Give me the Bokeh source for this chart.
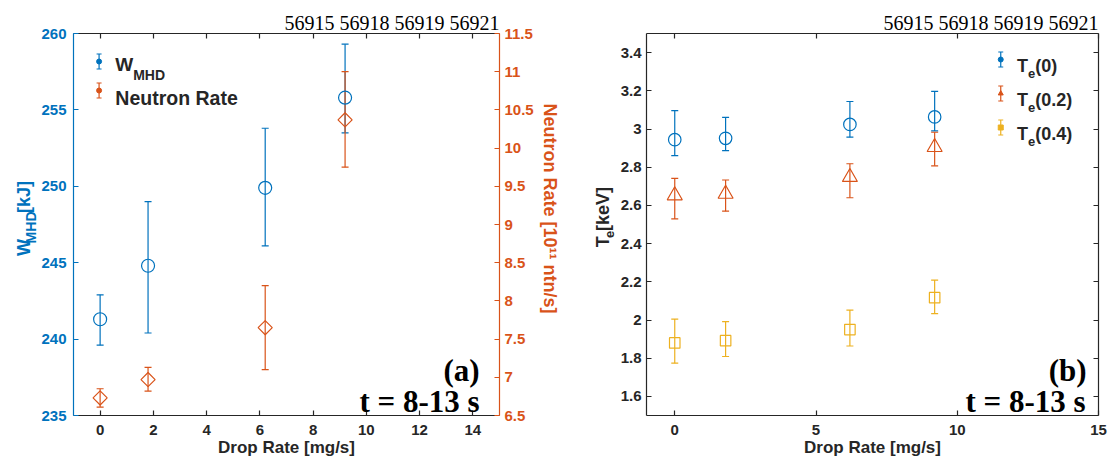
import numpy as np
from bokeh.plotting import figure
from bokeh.models import (Range1d, LinearAxis, FixedTicker, Whisker,
                          ColumnDataSource, TeeHead, Label)
from bokeh.layouts import row
from bokeh.embed import file_html
from bokeh.resources import INLINE
from bokeh.core.properties import value

# ---------------- data ----------------
drop_rate = [0.0, 1.8, 6.2, 9.2]

w_mhd = [241.3, 244.8, 249.9, 255.8]
w_mhd_lower = [239.6, 240.4, 246.1, 253.5]
w_mhd_upper = [242.9, 249.0, 253.8, 259.3]

neutron_rate = [6.73, 6.97, 7.65, 10.37]
neutron_lower = [6.61, 6.82, 7.10, 9.75]
neutron_upper = [6.85, 7.13, 8.20, 11.00]

te_0 = [2.944, 2.951, 3.024, 3.063]
te_0_lower = [2.861, 2.887, 2.957, 2.990]
te_0_upper = [3.096, 3.061, 3.144, 3.197]

te_02 = [2.652, 2.660, 2.748, 2.905]
te_02_lower = [2.529, 2.570, 2.640, 2.807]
te_02_upper = [2.742, 2.733, 2.818, 2.983]

te_04 = [1.880, 1.892, 1.950, 2.117]
te_04_lower = [1.774, 1.809, 1.864, 2.033]
te_04_upper = [2.005, 1.991, 2.052, 2.209]

x_ticks_a = [0, 2, 4, 6, 8, 10, 12, 14]
x_tick_labels_a = ["0", "2", "4", "6", "8", "10", "12", "14"]
w_ticks = [235, 240, 245, 250, 255, 260]
w_tick_labels = ["235", "240", "245", "250", "255", "260"]
n_ticks = [6.5, 7.0, 7.5, 8.0, 8.5, 9.0, 9.5, 10.0, 10.5, 11.0, 11.5]
n_tick_labels = ["6.5", "7", "7.5", "8", "8.5", "9", "9.5", "10", "10.5", "11", "11.5"]
x_ticks_b = [0, 5, 10, 15]
x_tick_labels_b = ["0", "5", "10", "15"]
te_ticks = [1.6, 1.8, 2.0, 2.2, 2.4, 2.6, 2.8, 3.0, 3.2, 3.4]
te_tick_labels = ["1.6", "1.8", "2", "2.2", "2.4", "2.6", "2.8", "3", "3.2", "3.4"]
shot_numbers = ["56915", "56918", "56919", "56921"]

# ---------------- style / layout ----------------
BLUE = "#0072BD"
ORANGE = "#D95319"
YELLOW = "#EDB120"
DARK = "#262626"
SANS = "Liberation Sans"
SERIF = "Liberation Serif"
LW = 1.2

TOP, BOT = 33, 415          # frame top / bottom (page px)
A_L, A_R = 71, 499          # panel (a) frame left / right
B_L, B_R = 643, 1098        # panel (b) frame left / right
FIG_H = 463
SW_X0, SW_X1 = 0, 38        # strip holding the W_MHD title
P1_X0, P1_X1 = 38, 538
SN_X0, SN_X1 = 538, 617     # strip holding Neutron-rate and T_e titles
P2_X0, P2_X1 = 617, 1108

AW = {' ': 278, '(': 333, ')': 333, '.': 278, '/': 278, '[': 333, ']': 333, '-': 333,
      'W': 944, 'M': 833, 'H': 722, 'D': 722, 'T': 611, 'e': 556, 'k': 556, 'J': 556,
      'V': 667, 'N': 722, 'u': 611, 't': 333, 'r': 389, 'o': 611, 'n': 611, 'R': 722,
      'a': 556, 's': 556, 'm': 889, 'g': 611, 'p': 611}


def tw(s, size):
    return sum(AW.get(c, 556) for c in s) / 1000.0 * size


def conv(left, right, x0, x1, y0, y1):
    fx = lambda px: x0 + (px - left) / (right - left) * (x1 - x0)
    fy = lambda py: y1 - (py - TOP) / (BOT - TOP) * (y1 - y0)
    return fx, fy


def style_axis(ax, color, ticks, labels=None, size="15px", standoff=6):
    ax.ticker = FixedTicker(ticks=ticks)
    ax.axis_line_color = color
    ax.axis_line_width = LW
    ax.major_tick_line_color = color
    ax.major_tick_line_width = LW
    ax.major_tick_in = 5
    ax.major_tick_out = 0
    ax.minor_tick_line_color = None
    ax.major_label_text_font = SANS
    ax.major_label_text_font_style = "bold"
    if labels is None:
        ax.major_label_text_font_size = "0px"
        ax.major_label_text_color = None
        ax.major_label_standoff = 0
    else:
        ax.major_label_text_color = color
        ax.major_label_text_font_size = size
        ax.major_label_standoff = standoff
        ax.major_label_overrides = dict(zip(ticks, labels))


def lab(p, x, y, text, size, color=DARK, font=SANS, style="bold",
        align="left", baseline="alphabetic"):
    p.add_layout(Label(x=x, y=y, text=text, text_font=font,
                       text_font_size=f"{size}px", text_font_style=style,
                       text_color=color, text_align=align, text_baseline=baseline))


def icon(p, fx, fy, cx, cy, color, marker):
    h, c = 7.5, 2.5
    p.segment(x0=[fx(cx), fx(cx - c), fx(cx - c)],
              y0=[fy(cy - h), fy(cy - h), fy(cy + h)],
              x1=[fx(cx), fx(cx + c), fx(cx + c)],
              y1=[fy(cy + h), fy(cy - h), fy(cy + h)],
              line_color=color, line_width=LW)
    p.scatter(x=[fx(cx)], y=[fy(cy)], marker=marker, size=5,
              fill_color=color, line_color=color)


def base_fig(x0, x1, frame_l, frame_r, xr, yr):
    p = figure(width=x1 - x0, height=FIG_H, x_range=Range1d(*xr), y_range=Range1d(*yr),
               min_border_left=frame_l - x0, min_border_right=x1 - frame_r,
               min_border_top=TOP, min_border_bottom=FIG_H - BOT,
               output_backend="svg", toolbar_location=None)
    p.outline_line_color = None
    p.xgrid.grid_line_color = None
    p.ygrid.grid_line_color = None
    p.background_fill_color = "white"
    p.border_fill_color = "white"
    p.xaxis[0].axis_label = "Drop Rate [mg/s]"
    p.xaxis[0].axis_label_text_font = SANS
    p.xaxis[0].axis_label_text_font_style = "bold"
    p.xaxis[0].axis_label_text_font_size = "17px"
    p.xaxis[0].axis_label_text_color = DARK
    p.xaxis[0].axis_label_standoff = 0
    p.title.text = " ".join(shot_numbers)
    p.title.align = "right"
    p.title.text_font = SERIF
    p.title.text_font_style = "normal"
    p.title.text_font_size = "20px"
    p.title.text_color = "black"
    p.title.standoff = 0
    return p


def strip(x0, x1):
    p = figure(width=x1 - x0, height=FIG_H, x_range=Range1d(x0, x1), y_range=Range1d(0, FIG_H),
               min_border=0, x_axis_location=None, y_axis_location=None, title=None,
               output_backend="svg", toolbar_location=None)
    p.outline_line_color = None
    p.xgrid.grid_line_color = None
    p.ygrid.grid_line_color = None
    p.border_fill_color = "white"
    return p


def vtext(p, text, x, py_center, size, color, up=True):
    """Rotated title piece in a strip, centred (along the text) at page-pixel py_center."""
    p.text(x=[x], y=[FIG_H - py_center], text=[text], angle=(np.pi / 2 if up else -np.pi / 2),
           text_font=value(SANS), text_font_size=value(f"{size}px"),
           text_font_style="bold", text_color=color,
           text_align="center", text_baseline="alphabetic")


def vtitle(p, pieces, start_py, up=True):
    """pieces: (text, size, baseline_x, gap_before); laid out from start_py along the text."""
    py = start_py
    sgn = -1 if up else 1
    for text, size, bx, gap, color in pieces:
        py += sgn * gap
        w = tw(text, size)
        vtext(p, text, bx, py + sgn * w / 2, size, color, up=up)
        py += sgn * w


# ================= panel (a) =================
p1 = base_fig(P1_X0, P1_X1, A_L, A_R, (-1, 15), (235, 260))
p1.extra_y_ranges = {"n": Range1d(6.5, 11.5)}
fxa, fya = conv(A_L, A_R, -1, 15, 235, 260)

style_axis(p1.xaxis[0], DARK, x_ticks_a, x_tick_labels_a, standoff=9)
style_axis(p1.yaxis[0], BLUE, w_ticks, w_tick_labels, standoff=7)
ax_n = LinearAxis(y_range_name="n")
style_axis(ax_n, ORANGE, n_ticks, n_tick_labels, standoff=5)
p1.add_layout(ax_n, "right")
ax_top_a = LinearAxis()
style_axis(ax_top_a, DARK, x_ticks_a)
p1.add_layout(ax_top_a, "above")

src_w = ColumnDataSource(dict(x=drop_rate, y=w_mhd, lo=w_mhd_lower, hi=w_mhd_upper))
src_n = ColumnDataSource(dict(x=drop_rate, y=neutron_rate, lo=neutron_lower, hi=neutron_upper))

for src, col, rng in ((src_w, BLUE, "default"), (src_n, ORANGE, "n")):
    p1.add_layout(Whisker(source=src, base="x", lower="lo", upper="hi", dimension="height",
                          line_color=col, line_width=LW, y_range_name=rng,
                          lower_head=TeeHead(size=7, line_color=col, line_width=LW),
                          upper_head=TeeHead(size=7, line_color=col, line_width=LW)))
p1.scatter("x", "y", source=src_w, marker="circle", size=13, fill_color=None,
           line_color=BLUE, line_width=LW)
p1.scatter("x", "y", source=src_n, marker="square", angle=np.pi / 4, size=10,
           fill_color=None, line_color=ORANGE, line_width=LW, y_range_name="n")

# legend (a)
icon(p1, fxa, fya, 96.7, 61, BLUE, "circle")
icon(p1, fxa, fya, 96.7, 90, ORANGE, "circle")
lab(p1, fxa(113), fya(64), "W", 19)
lab(p1, fxa(113 + tw("W", 19)), fya(74), "MHD", 14)
lab(p1, fxa(113), fya(97), "Neutron Rate", 19.5)
lab(p1, fxa(479), fya(370), "(a)", 31, font=SERIF, align="right", color="black")
lab(p1, fxa(479), fya(401), "t = 8-13 s", 31, font=SERIF, align="right", color="black")

# ================= panel (b) =================
p2 = base_fig(P2_X0, P2_X1, B_L, B_R, (-1, 15), (1.5, 3.5))
fxb, fyb = conv(B_L, B_R, -1, 15, 1.5, 3.5)

style_axis(p2.xaxis[0], DARK, x_ticks_b, x_tick_labels_b, standoff=9)
style_axis(p2.yaxis[0], DARK, te_ticks, te_tick_labels, standoff=5)
ax_top_b = LinearAxis()
style_axis(ax_top_b, DARK, x_ticks_b)
p2.add_layout(ax_top_b, "above")
ax_right_b = LinearAxis()
style_axis(ax_right_b, DARK, te_ticks)
p2.add_layout(ax_right_b, "right")

series_b = [
    (te_0, te_0_lower, te_0_upper, BLUE, "circle", 12.5),
    (te_02, te_02_lower, te_02_upper, ORANGE, "triangle", 15),
    (te_04, te_04_lower, te_04_upper, YELLOW, "square", 10.5),
]
for yv, lo, hi, col, mk, sz in series_b:
    src = ColumnDataSource(dict(x=drop_rate, y=yv, lo=lo, hi=hi))
    p2.add_layout(Whisker(source=src, base="x", lower="lo", upper="hi", dimension="height",
                          line_color=col, line_width=LW,
                          lower_head=TeeHead(size=7, line_color=col, line_width=LW),
                          upper_head=TeeHead(size=7, line_color=col, line_width=LW)))
    p2.scatter("x", "y", source=src, marker=mk, size=sz, fill_color=None,
               line_color=col, line_width=LW)

# legend (b)
legend_b = [("(0)", BLUE, "circle"), ("(0.2)", ORANGE, "triangle"), ("(0.4)", YELLOW, "square")]
for i, (txt, col, mk) in enumerate(legend_b):
    cy = 59 + 34 * i
    icon(p2, fxb, fyb, 999.6, cy, col, mk)
    lab(p2, fxb(1016), fyb(cy + 6), "T", 18)
    lab(p2, fxb(1016 + tw("T", 18)), fyb(cy + 14), "e", 13)
    lab(p2, fxb(1016 + tw("T", 18) + tw("e", 13)), fyb(cy + 6), txt, 18)

lab(p2, fxb(1086), fyb(370), "(b)", 31, font=SERIF, align="right", color="black")
lab(p2, fxb(1085), fyb(401), "t = 8-13 s", 31, font=SERIF, align="right", color="black")

# ================= rotated axis titles =================
sw = strip(SW_X0, SW_X1)
vtitle(sw, [("W", 18, 23, 0, BLUE), ("MHD", 14, 30, 0, BLUE), ("[kJ]", 18, 23, 5, BLUE)],
       268, up=True)

sn = strip(SN_X0, SN_X1)
vtext(sn, "Neutron Rate [10\u00b9\u00b9 ntn/s]", 549, 212, 18, ORANGE, up=False)
vtitle(sn, [("T", 18, 602, 0, DARK), ("e", 13, 609, 0, DARK), ("[keV]", 18, 602, 5, DARK)],
       258, up=True)

layout = row(sw, p1, sn, p2)
open("out.html", "w").write(file_html(layout, INLINE))
